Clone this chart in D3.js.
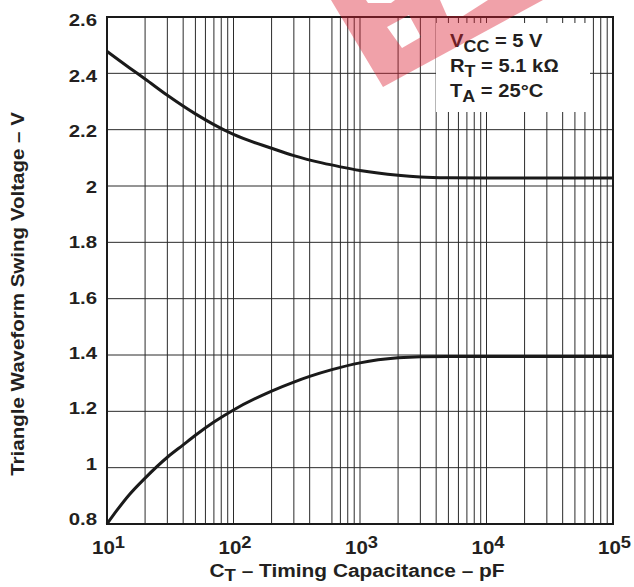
<!DOCTYPE html>
<html lang="en">
<head>
<meta charset="UTF-8">
<title>Triangle Waveform Swing Voltage vs Timing Capacitance</title>
<script src="https://d3js.org/d3.v7.min.js"></script>
<style>
  body { margin: 0; background: #fff; }
  svg text { font-family: "Liberation Sans", Arial, sans-serif; font-weight: bold; fill: #231f20; }
  .grid line { stroke: #2b2b2b; stroke-width: 1; }
  .curve { fill: none; stroke: #1a1a1a; stroke-width: 3; }
</style>
</head>
<body>
<div id="chart"></div>
<script>
// curve data (C in pF, V in volts)
const capUpper  = [10, 15, 20, 30, 50, 70, 100, 200, 300, 500, 700, 1000, 2000, 3000, 5000, 10000, 100000];
const voltUpper = [2.478, 2.42, 2.38, 2.322, 2.256, 2.218, 2.183, 2.134, 2.108, 2.082, 2.068, 2.055, 2.038, 2.032, 2.029, 2.028, 2.028];

const capLower  = [10, 12, 15, 20, 30, 40, 50, 70, 100, 200, 300, 400, 600, 1000, 2000, 3000, 5000, 100000];
const voltLower = [0.8, 0.849, 0.904, 0.963, 1.037, 1.081, 1.115, 1.162, 1.205, 1.272, 1.304, 1.324, 1.348, 1.372, 1.39, 1.394, 1.395, 1.395];

const yTicks = [0.8, 1, 1.2, 1.4, 1.6, 1.8, 2, 2.2, 2.4, 2.6];
const yTickLabels = ["0.8", "1", "1.2", "1.4", "1.6", "1.8", "2", "2.2", "2.4", "2.6"];
const xDecades = [10, 100, 1000, 10000, 100000];
const xExponents = ["1", "2", "3", "4", "5"];
const missingGrid = [500]; // this grid line is absent in the original figure

const legendLines = [
  { main: "V", sub: "CC", rest: " = 5 V" },
  { main: "R", sub: "T", rest: " = 5.1 k\u2126" },
  { main: "T", sub: "A", rest: " = 25\u00b0C" }
];

const width = 634, height = 587;
const margin = { top: 17, right: 21, bottom: 63, left: 107 };

const svg = d3.select("#chart").append("svg")
  .attr("width", width)
  .attr("height", height);

const x = d3.scaleLog().domain([10, 100000]).range([margin.left, width - margin.right]);
const y = d3.scaleLinear().domain([0.8, 2.6]).range([height - margin.bottom, margin.top]);
// the printed tick labels sit on a slightly tighter pitch than the grid
const yLabel = d3.scaleLinear().domain([0.8, 2.6]).range([519, 20]);

// the original lettering is a wide grotesque, so stretch it a little
function wideText(g, tx, ty, sx) {
  return g.append("text").attr("transform", `translate(${tx},${ty}) scale(${sx},1)`);
}

// minor log grid: 2..9 per decade plus the decades
const gridX = [];
xDecades.slice(0, -1).forEach(d => {
  for (let k = 2; k <= 9; k++) {
    if (!missingGrid.includes(d * k)) gridX.push(d * k);
  }
});
xDecades.forEach(d => gridX.push(d));

const grid = svg.append("g").attr("class", "grid");
grid.selectAll("line.v").data(gridX).join("line")
  .attr("class", "v")
  .attr("x1", d => x(d)).attr("x2", d => x(d))
  .attr("y1", y(2.6)).attr("y2", y(0.8));
grid.selectAll("line.h").data(yTicks).join("line")
  .attr("class", "h")
  .attr("x1", x(10)).attr("x2", x(100000))
  .attr("y1", d => y(d)).attr("y2", d => y(d));

// white block behind the condition notes
svg.append("rect")
  .attr("x", 436).attr("y", 23)
  .attr("width", 154).attr("height", 89)
  .attr("fill", "#fff");

// curves
const line = d3.line()
  .x(d => x(d[0]))
  .y(d => y(d[1]))
  .curve(d3.curveMonotoneX);

svg.append("path").attr("class", "curve")
  .attr("d", line(d3.zip(capUpper, voltUpper)));
svg.append("path").attr("class", "curve")
  .attr("d", line(d3.zip(capLower, voltLower)));

// frame
svg.append("rect")
  .attr("x", x(10)).attr("y", y(2.6))
  .attr("width", x(100000) - x(10))
  .attr("height", y(0.8) - y(2.6))
  .attr("fill", "none")
  .attr("stroke", "#1a1a1a")
  .attr("stroke-width", 2);

// y tick labels
const yl = svg.append("g");
yTicks.forEach((d, i) => {
  wideText(yl, 97, yLabel(d) + 6.3, 1.2)
    .attr("text-anchor", "end")
    .attr("font-size", 17)
    .text(yTickLabels[i]);
});

// x tick labels 10^n
const xl = svg.append("g");
xDecades.forEach((d, i) => {
  const t = wideText(xl, x(d) + 1.5, 554, 1.08)
    .attr("text-anchor", "middle")
    .attr("font-size", 19);
  t.append("tspan").text("10");
  t.append("tspan").attr("dy", -6).attr("font-size", 17).text(xExponents[i]);
});

// axis titles
const xt = wideText(svg, 357, 577, 1.16)
  .attr("text-anchor", "middle")
  .attr("font-size", 18);
xt.append("tspan").text("C");
xt.append("tspan").attr("dy", 4).attr("font-size", 16).text("T");
xt.append("tspan").attr("dy", -4).text(" \u2013 Timing Capacitance \u2013 pF");

svg.append("text")
  .attr("transform", "translate(24,294) rotate(-90) scale(1.14,1)")
  .attr("text-anchor", "middle")
  .attr("font-size", 18)
  .text("Triangle Waveform Swing Voltage \u2013 V");

// condition notes
const notes = svg.append("g");
legendLines.forEach((d, i) => {
  const t = wideText(notes, 450, 47 + i * 25, 1.12).attr("font-size", 18);
  t.append("tspan").text(d.main);
  t.append("tspan").attr("dy", 5).attr("font-size", 16).text(d.sub);
  t.append("tspan").attr("dy", -5).text(d.rest);
});

// red watermark fragment at the top
svg.append("path")
  .attr("fill", "#dc1e32")
  .attr("fill-opacity", 0.42)
  .attr("fill-rule", "evenodd")
  .attr("d",
    "M331,0 L383,87 L543,0 Z " +
    "M387,27 L409,15 L421,37 L402,48 Z " +
    "M366,0 L395,0 L391,3 L368,3 Z " +
    "M440,0 L488,0 L463,16 L447,16 Z");
</script>
</body>
</html>
